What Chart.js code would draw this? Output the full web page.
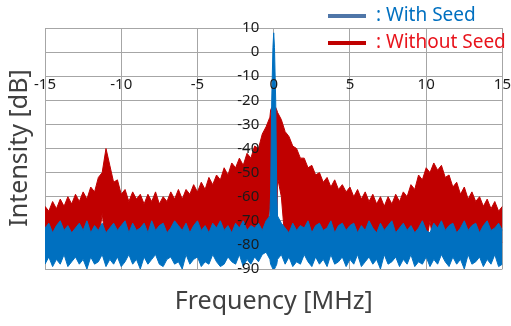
<!DOCTYPE html>
<html>
<head>
<meta charset="utf-8">
<script src="https://cdn.jsdelivr.net/npm/chart.js@4.4.1/dist/chart.umd.min.js"></script>
<style>
  html, body { margin: 0; padding: 0; background: #fff; }
  #wrap { width: 511px; height: 326px; }
</style>
</head>
<body>
<div id="wrap"><canvas id="spectrum" width="511" height="326"></canvas></div>
<script>
// frequency grid [MHz], extra points round the carrier
const freq = [
  -15,-14.75,-14.5,-14.25,-14,-13.75,-13.5,-13.25,-13,-12.75,-12.5,-12.25,-12,-11.75,-11.5,-11.25,-11,-10.75,-10.5,-10.25,
  -10,-9.75,-9.5,-9.25,-9,-8.75,-8.5,-8.25,-8,-7.75,-7.5,-7.25,-7,-6.75,-6.5,-6.25,-6,-5.75,-5.5,-5.25,
  -5,-4.75,-4.5,-4.25,-4,-3.75,-3.5,-3.25,-3,-2.75,-2.5,-2.25,-2,-1.75,-1.5,-1.25,-1,-0.75,-0.5,-0.25,
  -0.2,-0.13,-0.05,0,0.05,0.13,0.2,
  0.25,0.5,0.75,1,1.25,1.5,1.75,2,2.25,2.5,2.75,3,3.25,3.5,3.75,4,4.25,4.5,4.75,5,
  5.25,5.5,5.75,6,6.25,6.5,6.75,7,7.25,7.5,7.75,8,8.25,8.5,8.75,9,9.25,9.5,9.75,10,
  10.25,10.5,10.75,11,11.25,11.5,11.75,12,12.25,12.5,12.75,13,13.25,13.5,13.75,14,14.25,14.5,14.75,15
];

// Without Seed: upper / lower edge of the noise band [dB]
const noSeedHigh = [
  -64,-66,-62,-65,-61,-64,-60,-63,-59,-62,-58,-61,-56,-58,-52,-50,-40,-47,-54,-53,
  -59,-57,-62,-58,-61,-59,-63,-59,-62,-58,-63,-60,-62,-58,-61,-57,-61,-57,-59,-55,
  -58,-54,-57,-52,-55,-51,-53,-48,-51,-46,-48,-44,-47,-42,-44,-39,-40,-34,-31,-27,
  -24,-23,-25,-25,-25,-23,-24,
  -25,-28,-33,-35,-39,-40,-44,-44,-48,-47,-51,-50,-54,-52,-56,-53,-57,-55,-58,-56,
  -60,-57,-61,-58,-62,-59,-63,-60,-64,-60,-63,-59,-62,-58,-60,-55,-57,-51,-53,-48,
  -50,-46,-49,-47,-52,-51,-56,-54,-59,-56,-61,-58,-62,-60,-64,-61,-65,-62,-66,-64
];
const noSeedLow = [
  -80,-81,-79,-80,-82,-80,-79,-81,-80,-80,-79,-81,-80,-82,-79,-67,-80,-81,-80,-79,
  -80,-81,-79,-80,-82,-80,-79,-81,-80,-80,-79,-81,-80,-82,-79,-80,-80,-81,-80,-79,
  -80,-81,-79,-80,-82,-80,-79,-81,-80,-80,-79,-81,-80,-82,-79,-80,-80,-81,-80,-63,
  -80,-80,-80,-80,-80,-80,-80,
  -52,-60,-79,-80,-82,-80,-79,-81,-80,-80,-79,-81,-80,-82,-79,-80,-80,-81,-80,-79,
  -80,-81,-79,-80,-82,-80,-79,-81,-80,-80,-79,-81,-80,-82,-79,-80,-80,-81,-80,-79,
  -70,-81,-79,-80,-82,-80,-79,-81,-80,-80,-79,-81,-80,-82,-79,-80,-80,-81,-80,-79
];

// With Seed: upper / lower edge of the noise band [dB]
const seedHigh = [
  -73,-71,-75,-72,-70,-74,-72,-75,-73,-71,-74,-70,-75,-72,-74,-71,-75,-73,-71,-74,
  -72,-70,-75,-71,-74,-73,-71,-75,-70,-74,-72,-71,-75,-73,-70,-72,-74,-71,-75,-72,
  -70,-74,-72,-75,-71,-73,-70,-74,-72,-75,-71,-73,-70,-74,-72,-73,-71,-74,-70,-68,
  -58,-20,2,8,2,-20,-58,
  -68,-71,-73,-75,-71,-74,-72,-73,-70,-75,-72,-71,-74,-73,-70,-75,-72,-71,-74,-72,
  -71,-75,-72,-74,-70,-73,-75,-71,-74,-72,-70,-75,-73,-71,-74,-72,-75,-73,-70,-74,
  -75,-71,-73,-70,-74,-72,-71,-75,-73,-70,-74,-72,-71,-75,-72,-70,-74,-73,-71,-74
];
const seedLow = [
  -88,-85,-89,-86,-88,-84,-89,-87,-85,-88,-86,-90,-85,-88,-87,-84,-89,-86,-88,-85,
  -89,-87,-84,-88,-86,-90,-85,-88,-86,-84,-88,-89,-86,-85,-88,-87,-90,-84,-88,-86,
  -85,-89,-87,-88,-84,-87,-89,-88,-85,-87,-88,-84,-89,-86,-88,-85,-87,-84,-83,-86,
  -88,-89,-90,-90,-90,-89,-88,
  -86,-84,-88,-85,-89,-87,-88,-84,-87,-89,-85,-88,-86,-89,-84,-88,-87,-85,-89,-86,
  -88,-84,-89,-87,-85,-88,-86,-90,-84,-88,-87,-85,-89,-86,-88,-84,-89,-87,-88,-85,
  -89,-86,-88,-84,-87,-89,-85,-88,-86,-90,-84,-88,-87,-85,-89,-86,-88,-84,-89,-88
];

const xTicks = [-15, -10, -5, 0, 5, 10, 15];
const yTicks = [10, 0, -10, -20, -30, -40, -50, -60, -70, -80, -90];

const seriesNames = [": With Seed", ": Without Seed"];
const BLUE = "#0070c0";
const RED = "#c00000";
const GRID = "#a6a6a6";
const tickFont = { family: "Noto Sans", size: 15 };

const toPoints = (ys) => ys.map((y, i) => ({ x: freq[i], y }));

const band = (data, color, fill, order) => ({
  data: toPoints(data),
  borderColor: color,
  backgroundColor: color,
  borderWidth: 1,
  pointRadius: 0,
  tension: 0,
  fill,
  order
});

const fixedTicks = (list) => (axis) => { axis.ticks = list.map((v) => ({ value: v })); };

// axis titles and the two-line key, drawn straight on the canvas
const extras = {
  id: "extras",
  afterDraw(chart) {
    const { ctx, chartArea } = chart;
    ctx.save();
    ctx.fillStyle = "#404040";
    ctx.font = "25px 'Noto Sans'";
    ctx.textAlign = "center";
    ctx.textBaseline = "middle";
    ctx.fillText("Frequency [MHz]", (chartArea.left + chartArea.right) / 2, 302);
    ctx.translate(20, 148);
    ctx.rotate(-Math.PI / 2);
    ctx.fillText("Intensity [dB]", 0, 0);
    ctx.restore();

    const keys = [
      { y: 16, line: "#4f76a8", text: BLUE },
      { y: 43, line: RED, text: "#e8141c" }
    ];
    ctx.save();
    ctx.font = "19px 'Noto Sans'";
    ctx.textBaseline = "middle";
    ctx.textAlign = "left";
    keys.forEach((k, i) => {
      ctx.strokeStyle = k.line;
      ctx.lineWidth = 4;
      ctx.beginPath();
      ctx.moveTo(328, k.y);
      ctx.lineTo(366, k.y);
      ctx.stroke();
      ctx.fillStyle = k.text;
      ctx.fillText(seriesNames[i], 376, k.y);
    });
    ctx.restore();
  }
};

new Chart(document.getElementById("spectrum"), {
  type: "line",
  data: {
    datasets: [
      band(seedHigh, BLUE, 1, 0),
      band(seedLow, BLUE, false, 1),
      band(noSeedHigh, RED, 3, 2),
      band(noSeedLow, RED, false, 3)
    ]
  },
  options: {
    responsive: false,
    animation: false,
    events: [],
    layout: { padding: { left: 45, right: 7, top: 28, bottom: 57 } },
    plugins: {
      legend: { display: false },
      tooltip: { enabled: false }
    },
    scales: {
      x: {
        type: "linear", min: -15, max: 15,
        position: { y: -10 },
        afterBuildTicks: fixedTicks(xTicks),
        // labels sit on top of the data, grid below it
        ticks: { color: "#1a1a1a", font: tickFont, padding: 0, maxRotation: 0, autoSkip: false, z: 1 },
        grid: { color: GRID, drawTicks: false },
        border: { display: false }
      },
      y: {
        type: "linear", min: -90, max: 10,
        // padding is ignored for an object position, so anchor the labels a little left of 0
        position: { x: -0.95 },
        afterBuildTicks: fixedTicks(yTicks),
        ticks: { color: "#1a1a1a", font: tickFont, autoSkip: false, z: 1 },
        grid: { color: GRID, drawTicks: false },
        border: { display: false }
      }
    }
  },
  plugins: [extras]
});
</script>
</body>
</html>
